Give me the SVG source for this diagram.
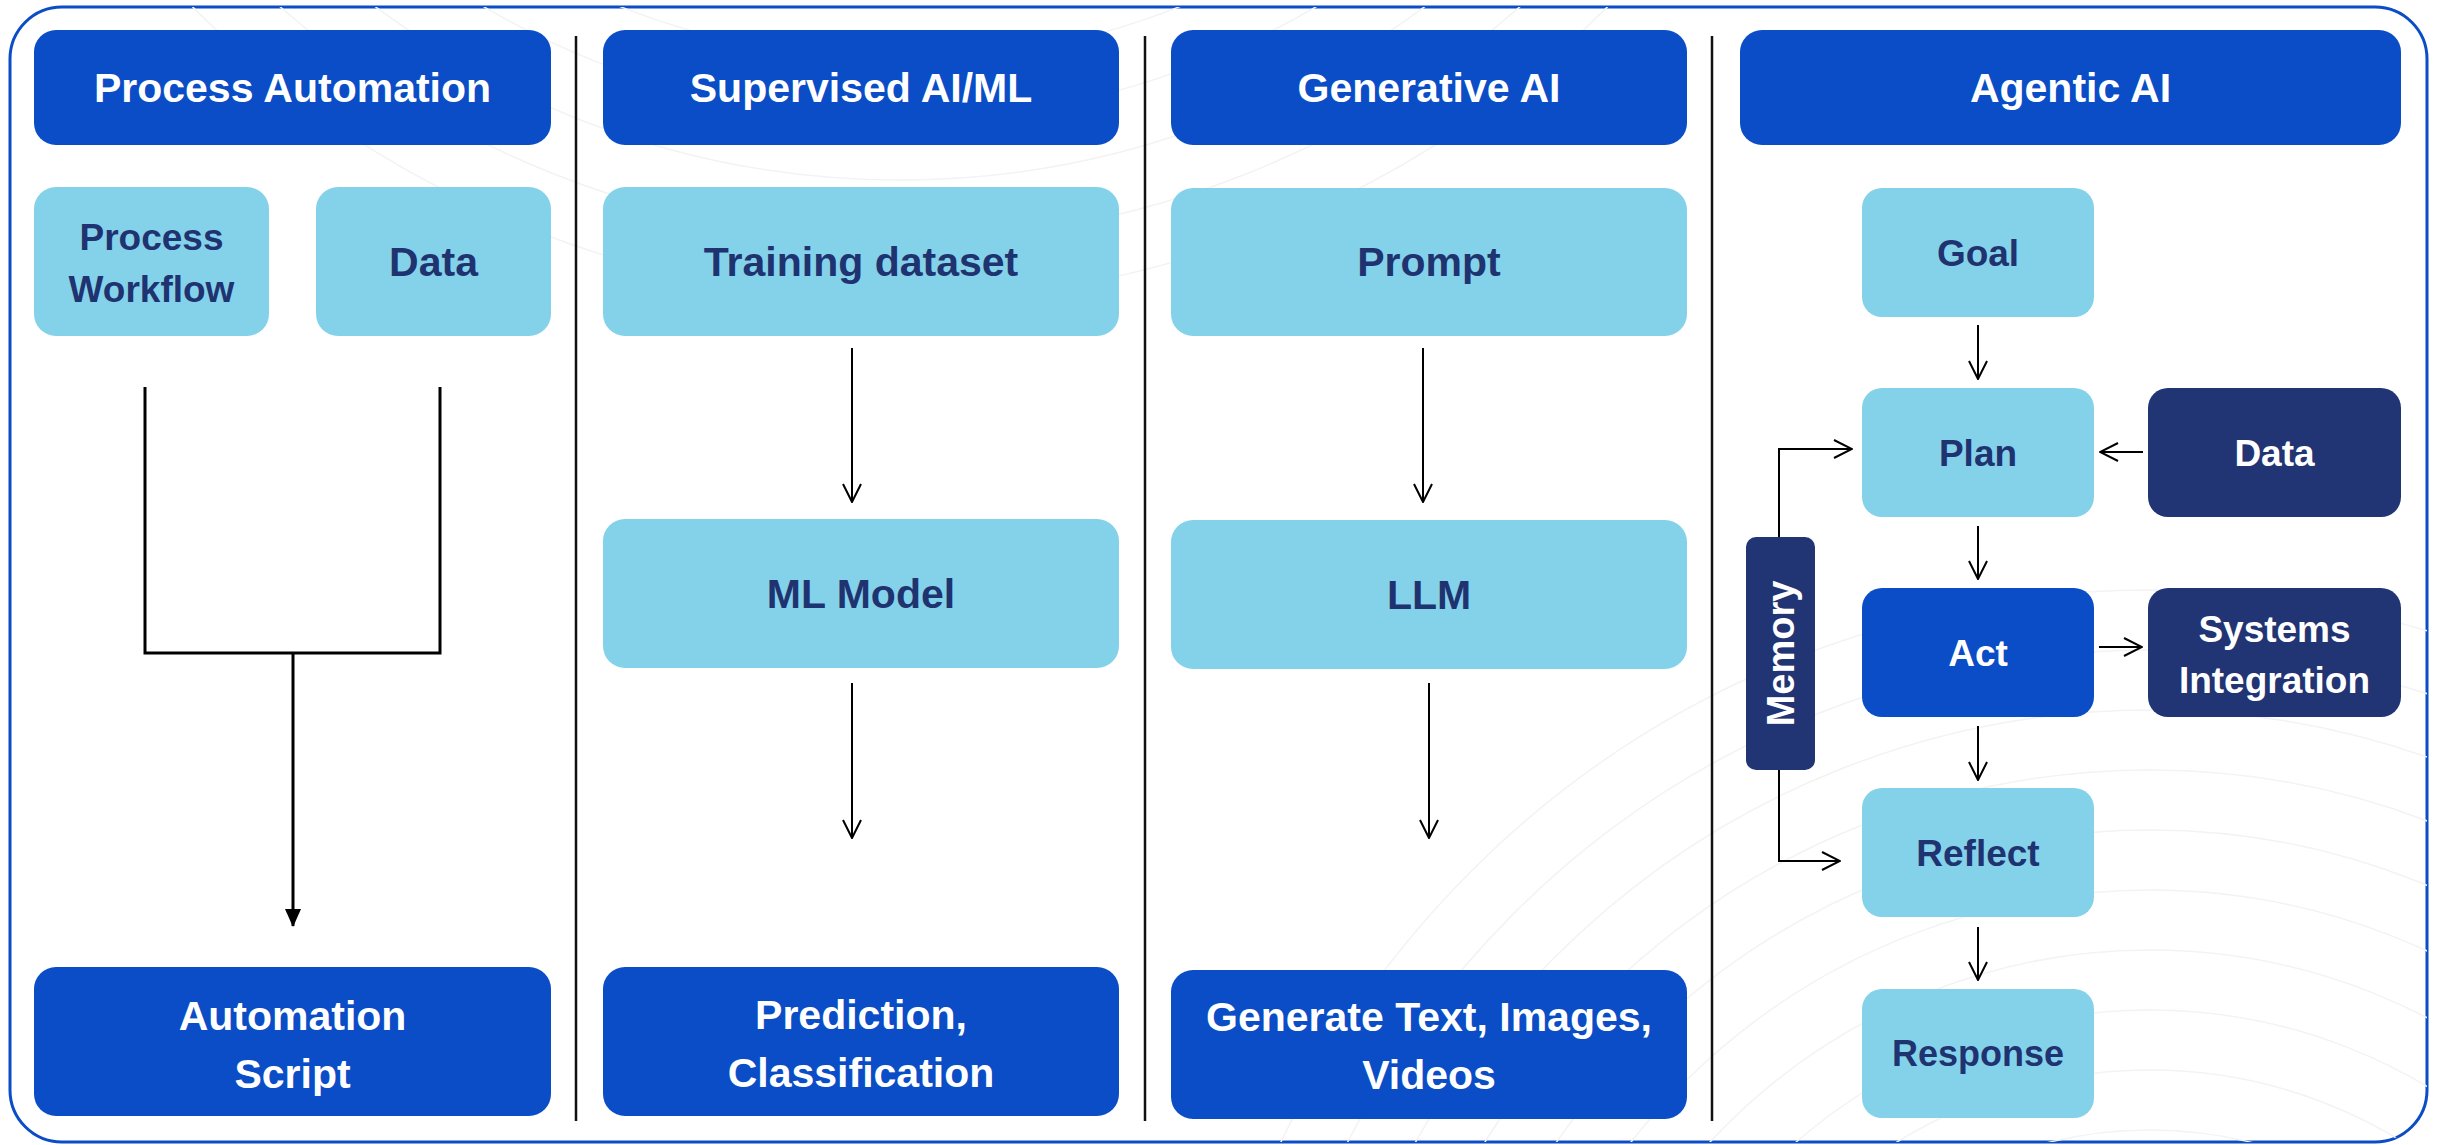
<svg xmlns="http://www.w3.org/2000/svg" width="2438" height="1145" viewBox="0 0 2438 1145">
  <defs>
    <style>
      .hdr { fill: #0A4DC6; }
      .lt { fill: #84D2EA; }
      .nv { fill: #213473; }
      .tw { font-family: "Liberation Sans", Arial, sans-serif; font-weight: bold; fill: #FFFFFF; text-anchor: middle; }
      .td { font-family: "Liberation Sans", Arial, sans-serif; font-weight: bold; fill: #1F3370; text-anchor: middle; }
      .f41 { font-size: 41px; }
      .f37 { font-size: 37px; }
      .f36 { font-size: 36px; }
      .div { stroke: #111111; stroke-width: 2.5; }
      .conn { fill: none; stroke: #000000; stroke-width: 2; }
      .conn3 { fill: none; stroke: #000000; stroke-width: 3; }
      .arc { fill: none; stroke: #F3F3F3; stroke-width: 1.5; }
    </style>
    <marker id="open" viewBox="0 0 20 20" refX="19" refY="10" markerWidth="20" markerHeight="20" markerUnits="userSpaceOnUse" orient="auto">
      <path d="M1,1 L19,10 L1,19" fill="none" stroke="#000000" stroke-width="2"/>
    </marker>
    <marker id="solid" viewBox="0 0 18 18" refX="17" refY="9" markerWidth="18" markerHeight="18" markerUnits="userSpaceOnUse" orient="auto">
      <path d="M0,1 L18,9 L0,17 Z" fill="#000000"/>
    </marker>
    <clipPath id="frame">
      <rect x="10" y="7" width="2417" height="1135" rx="52"/>
    </clipPath>
  </defs>

  <rect x="0" y="0" width="2438" height="1145" fill="#FFFFFF"/>
  <rect x="10" y="7" width="2417" height="1135" rx="52" fill="#FFFFFF" stroke="#0A4DC6" stroke-width="3"/>

  <g id="background-arcs" clip-path="url(#frame)">
    <circle class="arc" cx="2150" cy="1550" r="420"/>
    <circle class="arc" cx="2150" cy="1550" r="480"/>
    <circle class="arc" cx="2150" cy="1550" r="540"/>
    <circle class="arc" cx="2150" cy="1550" r="600"/>
    <circle class="arc" cx="2150" cy="1550" r="660"/>
    <circle class="arc" cx="2150" cy="1550" r="720"/>
    <circle class="arc" cx="2150" cy="1550" r="780"/>
    <circle class="arc" cx="2150" cy="1550" r="840"/>
    <circle class="arc" cx="2150" cy="1550" r="900"/>
    <circle class="arc" cx="2150" cy="1550" r="960"/>
    <circle class="arc" cx="900" cy="-700" r="760"/>
    <circle class="arc" cx="900" cy="-700" r="820"/>
    <circle class="arc" cx="900" cy="-700" r="880"/>
    <circle class="arc" cx="900" cy="-700" r="940"/>
    <circle class="arc" cx="900" cy="-700" r="1000"/>
  </g>

  <g id="dividers">
    <line class="div" x1="576" y1="36" x2="576" y2="1121"/>
    <line class="div" x1="1145" y1="36" x2="1145" y2="1121"/>
    <line class="div" x1="1712" y1="36" x2="1712" y2="1121"/>
  </g>

  <g id="connectors">
    <path class="conn3" d="M145,387 V653 H440 V387"/>
    <path class="conn3" d="M293,653 V926" marker-end="url(#solid)"/>
    <path class="conn" d="M852,348 V502" marker-end="url(#open)"/>
    <path class="conn" d="M852,683 V838" marker-end="url(#open)"/>
    <path class="conn" d="M1423,348 V502" marker-end="url(#open)"/>
    <path class="conn" d="M1429,683 V838" marker-end="url(#open)"/>
    <path class="conn" d="M1978,325 V379" marker-end="url(#open)"/>
    <path class="conn" d="M1978,526 V579" marker-end="url(#open)"/>
    <path class="conn" d="M1978,726 V780" marker-end="url(#open)"/>
    <path class="conn" d="M1978,927 V980" marker-end="url(#open)"/>
    <path class="conn" d="M2143,452 H2100" marker-end="url(#open)"/>
    <path class="conn" d="M2099,647 H2142" marker-end="url(#open)"/>
    <path class="conn" d="M1779,537 V449 H1852" marker-end="url(#open)"/>
    <path class="conn" d="M1779,770 V861 H1840" marker-end="url(#open)"/>
  </g>

  <!-- Column 1 -->
  <g id="hdr-process-automation">
    <rect class="hdr" x="34" y="30" width="517" height="115" rx="22"/>
    <text class="tw f41" x="292.5" y="102">Process Automation</text>
  </g>
  <g id="process-workflow">
    <rect class="lt" x="34" y="187" width="235" height="149" rx="22"/>
    <text class="td f37" x="151.5" y="250">Process</text>
    <text class="td f37" x="151.5" y="302">Workflow</text>
  </g>
  <g id="data-1">
    <rect class="lt" x="316" y="187" width="235" height="149" rx="22"/>
    <text class="td f41" x="433.5" y="276">Data</text>
  </g>
  <g id="automation-script">
    <rect class="hdr" x="34" y="967" width="517" height="149" rx="22"/>
    <text class="tw f41" x="292.5" y="1030">Automation</text>
    <text class="tw f41" x="292.5" y="1088">Script</text>
  </g>

  <!-- Column 2 -->
  <g id="hdr-supervised">
    <rect class="hdr" x="603" y="30" width="516" height="115" rx="22"/>
    <text class="tw f41" x="861" y="102">Supervised AI/ML</text>
  </g>
  <g id="training-dataset">
    <rect class="lt" x="603" y="187" width="516" height="149" rx="22"/>
    <text class="td f41" x="861" y="276">Training dataset</text>
  </g>
  <g id="ml-model">
    <rect class="lt" x="603" y="519" width="516" height="149" rx="22"/>
    <text class="td f41" x="861" y="608">ML Model</text>
  </g>
  <g id="prediction">
    <rect class="hdr" x="603" y="967" width="516" height="149" rx="22"/>
    <text class="tw f41" x="861" y="1029">Prediction,</text>
    <text class="tw f41" x="861" y="1087">Classification</text>
  </g>

  <!-- Column 3 -->
  <g id="hdr-generative">
    <rect class="hdr" x="1171" y="30" width="516" height="115" rx="22"/>
    <text class="tw f41" x="1429" y="102">Generative AI</text>
  </g>
  <g id="prompt">
    <rect class="lt" x="1171" y="188" width="516" height="148" rx="22"/>
    <text class="td f41" x="1429" y="276">Prompt</text>
  </g>
  <g id="llm">
    <rect class="lt" x="1171" y="520" width="516" height="149" rx="22"/>
    <text class="td f41" x="1429" y="609">LLM</text>
  </g>
  <g id="generate">
    <rect class="hdr" x="1171" y="970" width="516" height="149" rx="22"/>
    <text class="tw f41" x="1429" y="1031">Generate Text, Images,</text>
    <text class="tw f41" x="1429" y="1089">Videos</text>
  </g>

  <!-- Column 4 -->
  <g id="hdr-agentic">
    <rect class="hdr" x="1740" y="30" width="661" height="115" rx="22"/>
    <text class="tw f41" x="2070.5" y="102">Agentic AI</text>
  </g>
  <g id="goal">
    <rect class="lt" x="1862" y="188" width="232" height="129" rx="20"/>
    <text class="td f37" x="1978" y="266">Goal</text>
  </g>
  <g id="plan">
    <rect class="lt" x="1862" y="388" width="232" height="129" rx="20"/>
    <text class="td f37" x="1978" y="466">Plan</text>
  </g>
  <g id="data-4">
    <rect class="nv" x="2148" y="388" width="253" height="129" rx="20"/>
    <text class="tw f37" x="2274.5" y="466">Data</text>
  </g>
  <g id="act">
    <rect class="hdr" x="1862" y="588" width="232" height="129" rx="20"/>
    <text class="tw f37" x="1978" y="666">Act</text>
  </g>
  <g id="systems-integration">
    <rect class="nv" x="2148" y="588" width="253" height="129" rx="20"/>
    <text class="tw f37" x="2274.5" y="642">Systems</text>
    <text class="tw f37" x="2274.5" y="693">Integration</text>
  </g>
  <g id="reflect">
    <rect class="lt" x="1862" y="788" width="232" height="129" rx="20"/>
    <text class="td f37" x="1978" y="866">Reflect</text>
  </g>
  <g id="response">
    <rect class="lt" x="1862" y="989" width="232" height="129" rx="20"/>
    <text class="td f36" x="1978" y="1066">Response</text>
  </g>
  <g id="memory">
    <rect class="nv" x="1746" y="537" width="69" height="233" rx="10"/>
    <text class="tw" font-size="38" transform="translate(1794,653.5) rotate(-90)" x="0" y="0">Memory</text>
  </g>
</svg>
